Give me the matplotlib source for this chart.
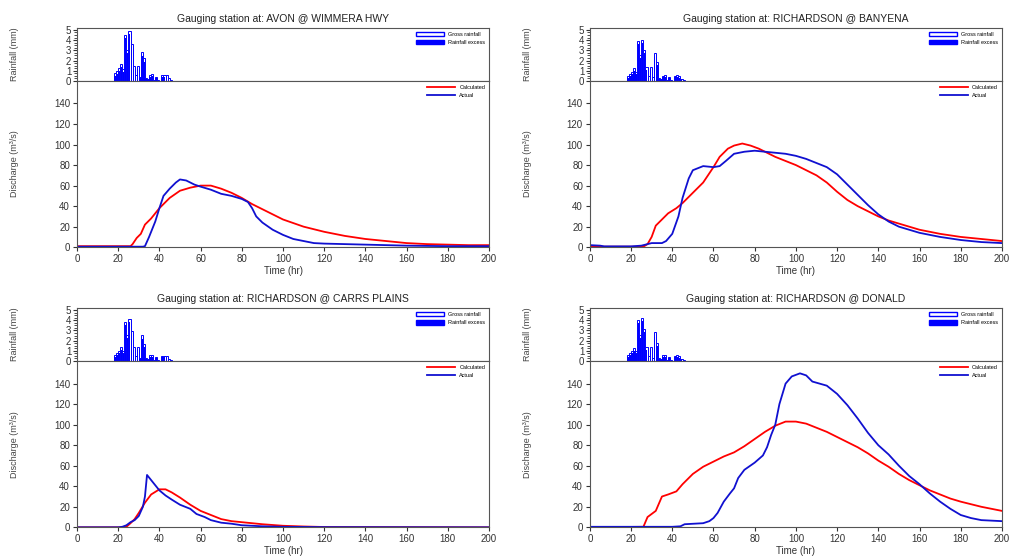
import numpy as np
import matplotlib.pyplot as plt
from matplotlib.patches import Patch

plt.rcParams['font.family'] = ['Liberation Sans', 'DejaVu Sans']

titles = ["Gauging station at: AVON @ WIMMERA HWY",
          "Gauging station at: RICHARDSON @ BANYENA",
          "Gauging station at: RICHARDSON @ CARRS PLAINS",
          "Gauging station at: RICHARDSON @ DONALD"]

# hourly rainfall, hours 18..45
rain_t = np.arange(18, 46)
gross = [
    [0.8, 1.0, 1.3, 1.7, 1.2, 4.5, 3.0, 4.9, 3.6, 1.5, 0.6, 1.5, 0.4, 2.8, 2.2, 0.3, 0.2, 0.6, 0.7, 0.1, 0.4, 0.1, 0.0, 0.6, 0.6, 0.6, 0.3, 0.1],
    [0.5, 0.7, 0.9, 1.3, 0.9, 3.9, 2.5, 4.0, 3.0, 1.4, 0.5, 1.4, 0.4, 2.7, 1.9, 0.3, 0.2, 0.5, 0.6, 0.1, 0.4, 0.1, 0.0, 0.5, 0.6, 0.5, 0.2, 0.1],
    [0.6, 0.8, 1.0, 1.4, 1.0, 3.8, 2.6, 4.1, 2.9, 1.4, 0.5, 1.4, 0.3, 2.6, 1.7, 0.3, 0.2, 0.6, 0.6, 0.1, 0.4, 0.1, 0.0, 0.5, 0.5, 0.5, 0.2, 0.1],
    [0.6, 0.8, 1.0, 1.3, 1.0, 4.0, 2.6, 4.2, 3.1, 1.4, 0.5, 1.4, 0.3, 2.8, 1.8, 0.3, 0.2, 0.6, 0.6, 0.1, 0.4, 0.1, 0.0, 0.5, 0.6, 0.5, 0.2, 0.1],
]
excess = [
    [0.5, 0.7, 1.0, 1.4, 0.9, 4.2, 2.7, 4.6, 3.3, 1.2, 0.4, 1.2, 0.3, 2.4, 1.9, 0.2, 0.1, 0.4, 0.5, 0.0, 0.3, 0.0, 0.0, 0.4, 0.4, 0.4, 0.2, 0.0],
    [0.3, 0.5, 0.7, 1.0, 0.7, 3.6, 2.2, 3.7, 2.7, 1.1, 0.3, 1.1, 0.3, 2.3, 1.6, 0.2, 0.1, 0.4, 0.4, 0.0, 0.3, 0.0, 0.0, 0.4, 0.4, 0.3, 0.1, 0.0],
    [0.4, 0.6, 0.8, 1.1, 0.8, 3.5, 2.3, 3.8, 2.6, 1.1, 0.3, 1.1, 0.2, 2.2, 1.4, 0.2, 0.1, 0.4, 0.4, 0.0, 0.3, 0.0, 0.0, 0.4, 0.4, 0.3, 0.1, 0.0],
    [0.4, 0.6, 0.8, 1.0, 0.8, 3.7, 2.3, 3.9, 2.8, 1.1, 0.3, 1.1, 0.2, 2.4, 1.5, 0.2, 0.1, 0.4, 0.4, 0.0, 0.3, 0.0, 0.0, 0.4, 0.4, 0.3, 0.1, 0.0],
]

# discharge (m3/s)
calc_t = [
    [0, 26, 27, 29, 31, 33, 36, 40, 45, 50, 55, 60, 65, 70, 75, 80, 85, 90, 95, 100, 110, 120, 130, 140, 150, 160, 170, 180, 190, 200],
    [0, 26, 28, 30, 32, 35, 38, 42, 45, 50, 55, 60, 63, 67, 70, 74, 78, 82, 86, 90, 95, 100, 105, 110, 115, 120, 125, 130, 135, 140, 145, 150, 155, 160, 170, 180, 190, 200],
    [0, 22, 24, 26, 28, 30, 33, 36, 40, 43, 46, 50, 55, 60, 65, 70, 75, 80, 90, 100, 110, 120, 200],
    [0, 26, 28, 30, 32, 35, 38, 42, 45, 50, 55, 60, 65, 70, 75, 80, 85, 90, 95, 100, 105, 110, 115, 120, 125, 130, 135, 140, 145, 150, 155, 160, 165, 170, 175, 180, 190, 200],
]
calc_q = [
    [1, 1, 3, 9, 13, 22, 28, 38, 48, 55, 58, 60, 60, 57, 53, 48, 42, 37, 32, 27, 20, 15, 11, 8, 6, 4, 3, 2.5, 2, 2],
    [0.5, 0.5, 3, 10, 21, 27, 33, 38, 43, 53, 63, 78, 88, 96, 99, 101, 99, 96, 92, 88, 84, 80, 75, 70, 63, 54, 46, 40, 35, 30, 26, 23, 20, 17, 13, 10, 8, 6],
    [0, 0, 0.5, 4, 8, 14, 24, 32, 37, 37, 34, 29, 22, 16, 12, 8, 6, 5, 3, 1.5, 0.8, 0.3, 0],
    [0, 0.5, 10, 13, 16, 30, 32, 35, 42, 52, 59, 64, 69, 73, 79, 86, 93, 99, 103, 103, 101, 97, 93, 88, 83, 78, 72, 65, 59, 52, 46, 41, 36, 32, 28, 25, 20, 16],
]
act_t = [
    [0, 32, 33, 35, 38, 40, 42, 45, 48, 50, 53, 57, 60, 65, 70, 75, 80, 83, 85, 87, 90, 95, 100, 105, 110, 115, 120, 130, 140, 160, 180, 200],
    [0, 5, 7, 20, 25, 28, 30, 35, 37, 40, 43, 45, 48, 50, 55, 60, 63, 66, 70, 75, 80, 85, 90, 95, 100, 105, 110, 115, 120, 125, 130, 135, 140, 145, 150, 155, 160, 170, 180, 190, 200],
    [0, 20, 22, 24, 26, 28, 30, 32, 33, 34, 36, 38, 40, 43, 46, 50, 55, 58, 62, 65, 70, 75, 80, 90, 100, 120, 200],
    [0, 40, 44, 46, 55, 58, 60, 62, 65, 68, 70, 72, 75, 80, 84, 86, 88, 90, 92, 95, 98, 102, 105, 108, 115, 120, 125, 130, 135, 140, 145, 150, 155, 160, 165, 170, 175, 180, 185, 190, 200],
]
act_q = [
    [0.5, 0.5, 1, 10, 25, 38, 50, 57, 63, 66, 65, 61, 59, 56, 52, 50, 47, 44, 38, 30, 24, 17, 12, 8, 6, 4, 3.5, 3, 2.5, 1.5, 1, 1],
    [2, 1.5, 0.8, 0.8, 1.5, 3, 4, 4, 6, 13, 30, 48, 67, 75, 79, 78, 79, 84, 91, 93, 94, 93, 92, 91, 89, 86, 82, 78, 71, 61, 51, 41, 32, 25, 20, 17, 14, 10, 7, 5, 4],
    [0, 0, 0.5, 2, 5, 7, 11, 20, 30, 51, 46, 41, 36, 31, 27, 22, 18, 13, 10, 7, 4.5, 3.5, 2, 1, 0.5, 0.2, 0],
    [0.5, 0.5, 1, 3, 4, 6, 9, 14, 25, 33, 38, 48, 56, 63, 70, 78, 90, 100, 120, 140, 147, 150, 148, 142, 138, 130, 119, 106, 92, 80, 71, 60, 50, 42, 33, 25, 18, 12, 9, 7, 6],
]

fig = plt.figure(figsize=(10.1, 5.58), dpi=100)

lefts = [0.0762, 0.584, 0.0762, 0.584]
rain_bottoms = [0.855, 0.855, 0.353, 0.353]
q_bottoms = [0.557, 0.557, 0.055, 0.055]
w = 0.408
rh = 0.095
qh = 0.298
grey = '#555555'

for i in range(4):
    axr = fig.add_axes([lefts[i], rain_bottoms[i], w, rh])
    axq = fig.add_axes([lefts[i], q_bottoms[i], w, qh])

    axr.bar(rain_t, gross[i], width=1.0, align='edge', facecolor='white', edgecolor='blue', linewidth=0.7)
    axr.bar(rain_t + 0.15, excess[i], width=0.7, align='edge', color='blue', linewidth=0)
    axr.set_xlim(0, 200)
    axr.set_ylim(0, 5.2)
    axr.set_yticks(range(6))
    axr.set_yticks(np.arange(0, 5.2, 0.25), minor=True)
    axr.set_xticks([])
    axr.tick_params(axis='y', labelsize=7, length=3, pad=1, colors='#333333')
    axr.tick_params(axis='y', which='minor', length=2, colors='#333333')
    axr.set_ylabel("Rainfall (mm)", fontsize=6.5, color='#444444')
    axr.yaxis.set_label_coords(-0.14, 0.5)
    axr.set_title(titles[i], fontsize=7.5, color='#222222', pad=4)
    axr.legend(handles=[Patch(facecolor='white', edgecolor='blue', label='Gross rainfall'),
                        Patch(facecolor='blue', edgecolor='blue', label='Rainfall excess')],
               loc='upper right', fontsize=4, frameon=False, handlelength=5, handleheight=0.8,
               borderaxespad=0.3, labelspacing=0.6)

    axq.plot(calc_t[i], calc_q[i], color='red', linewidth=1.3, label='Calculated')
    axq.plot(act_t[i], act_q[i], color='#1010d0', linewidth=1.3, label='Actual')
    axq.set_xlim(0, 200)
    axq.set_ylim(0, 162)
    axq.set_yticks(range(0, 141, 20))
    axq.set_xticks(range(0, 201, 20))
    axq.tick_params(labelsize=7, length=3, pad=2, colors='#333333')
    axq.set_ylabel("Discharge (m\u00b3/s)", fontsize=6.5, color='#444444')
    axq.yaxis.set_label_coords(-0.14, 0.5)
    axq.set_xlabel("Time (hr)", fontsize=7, color='#333333', labelpad=1)
    axq.legend(loc='upper right', fontsize=4, frameon=False, handlelength=5,
               borderaxespad=0.3, labelspacing=0.6)

    for ax in (axr, axq):
        for s in ax.spines.values():
            s.set_color(grey)
            s.set_linewidth(0.8)

fig.savefig("out.png", dpi=100)
